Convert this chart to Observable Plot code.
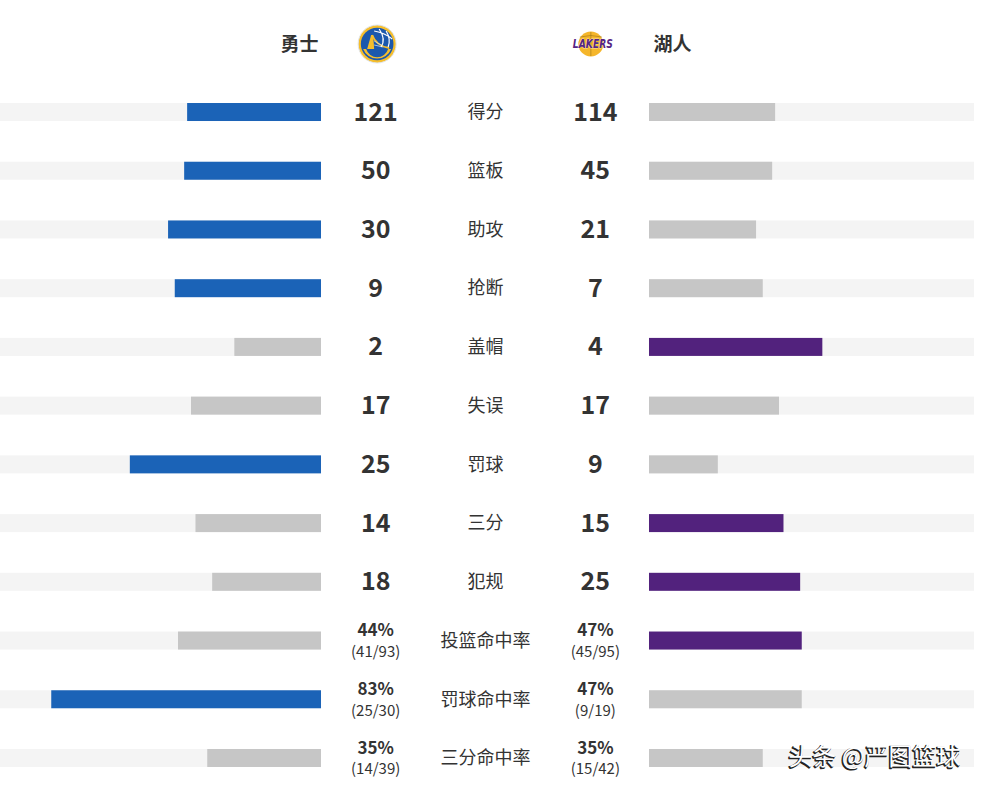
<!DOCTYPE html>
<html>
<head>
<meta charset="utf-8">
<script src="https://cdn.jsdelivr.net/npm/d3@7"></script>
<script src="https://cdn.jsdelivr.net/npm/@observablehq/plot@0.6"></script>
<style>
  html, body { margin: 0; padding: 0; background: #fff; }
  #chart { width: 984px; height: 791px; overflow: hidden; }
</style>
</head>
<body>
<div id="chart"></div>
<script>
const teamLeft = "勇士";
const teamRight = "湖人";
const categories = ["得分","篮板","助攻","抢断","盖帽","失误","罚球","三分","犯规","投篮命中率","罚球命中率","三分命中率"];
const warriors = [121, 50, 30, 9, 2, 17, 25, 14, 18, 44, 83, 35];
const lakers   = [114, 45, 21, 7, 4, 17, 9, 15, 25, 47, 47, 35];
const isPercent = [false,false,false,false,false,false,false,false,false,true,true,true];
const warriorsDetail = ["","","","","","","","","","(41/93)","(25/30)","(14/39)"];
const lakersDetail   = ["","","","","","","","","","(45/95)","(9/19)","(15/42)"];
const watermark = "头条 @严图篮球";

const BLUE = "#1b63b7", PURPLE = "#52227d", GRAY = "#c6c6c6", TRACK = "#f4f4f4", INK = "#333333";

const gap = 0.5046;     // half-gap between the two tracks, in track units
const numCol = 0.338;   // value column position
const rows = categories.map((c, i) => {
  const a = warriors[i], b = lakers[i], pct = isPercent[i];
  const fa = pct ? a / 100 : a / (a + b) * 0.8;
  const fb = pct ? b / 100 : b / (a + b) * 0.8;
  return {
    cat: c, a, b, pct,
    la: pct ? a + "%" : String(a),
    lb: pct ? b + "%" : String(b),
    da: warriorsDetail[i], db: lakersDetail[i],
    a1: -gap - fa, a2: -gap, b1: gap, b2: gap + fb,
    ca: a > b ? BLUE : GRAY,
    cb: b > a ? PURPLE : GRAY
  };
});
const counts = rows.filter(d => !d.pct);
const pcts = rows.filter(d => d.pct);

function logos(index, scales) {
  const g = d3.create("svg:g");
  const wx = scales.x(-numCol) + 2, lx = scales.x(numCol) - 2, cy = 44;
  // Warriors
  const w = g.append("g").attr("transform", `translate(${wx},${cy})`);
  w.append("circle").attr("r", 19).attr("fill", "#f6be2c").attr("stroke", "#dfe6f0").attr("stroke-width", 1);
  w.append("circle").attr("r", 16.3).attr("fill", "#1b58ad");
  w.append("path").attr("d", "M-14,5 A15,15 0 0 0 14,5 L11,5 A11.5,11.5 0 0 1 -11,5 Z").attr("fill", "#f6be2c");
  w.append("path").attr("d", "M-10,5 L-6,-9 L-4,-9 L-3,5 Z").attr("fill", "#f6be2c");
  w.append("path").attr("d", "M-5,-9 Q-1,2 12,4").attr("fill", "none").attr("stroke", "#f6be2c").attr("stroke-width", 1.8);
  w.append("path").attr("d", "M-3,-3 L4,1 M-3,1 L6,3").attr("fill", "none").attr("stroke", "#cfd9e8").attr("stroke-width", 0.8);
  w.append("path").attr("d", "M2,-15 Q9,-5 4,3 M9,-13 Q14,-5 11,3 M-3,-13 Q8,-11 15,-5").attr("fill", "none").attr("stroke", "#ffffff").attr("stroke-width", 1.2);
  // Lakers
  const l = g.append("g").attr("transform", `translate(${lx},${cy})`);
  l.append("circle").attr("cx", -2).attr("cy", 0).attr("r", 12.5).attr("fill", "#f5b62b");
  l.append("path").attr("d", "M-13,-7 Q-2,-10 9,-7 M-2,-12 L-2,12").attr("fill", "none").attr("stroke", "#9a7418").attr("stroke-width", 0.6);
  l.append("text").attr("x", 0).attr("y", 4).attr("text-anchor", "middle")
    .attr("font-family", "DejaVu Sans, sans-serif").attr("font-style", "italic").attr("font-weight", "bold")
    .attr("font-size", 12).attr("fill", "#552583").attr("stroke", "#ffffff").attr("stroke-width", 0.6)
    .attr("paint-order", "stroke").attr("textLength", 40).attr("lengthAdjust", "spacingAndGlyphs").text("LAKERS");
  return g.node();
}

const FONT = "'Noto Sans CJK SC', 'Noto Sans', sans-serif";

const plot = Plot.plot({
  width: 984,
  height: 791,
  margin: 0,
  style: { background: "#fff", fontFamily: FONT, overflow: "visible" },
  x: { domain: [-1 - gap, 1 + gap], range: [-4, 974], axis: null },
  y: { type: "band", domain: categories, range: [82.65, 787.35], paddingInner: 0.6935, paddingOuter: 0.34675, round: false, axis: null },
  marks: [
    // background tracks
    Plot.barX(rows, { y: "cat", x1: -1 - gap, x2: -gap, fill: TRACK }),
    Plot.barX(rows, { y: "cat", x1: gap, x2: 1 + gap, fill: TRACK }),
    // bars
    Plot.barX(rows, { y: "cat", x1: "a1", x2: "a2", fill: "ca" }),
    Plot.barX(rows, { y: "cat", x1: "b1", x2: "b2", fill: "cb" }),
    // category labels
    Plot.text(rows, { y: "cat", x: 0, text: "cat", fontSize: 18, fill: INK }),
    // count values
    Plot.text(counts, { y: "cat", x: -numCol, text: "la", fontSize: 25, fontWeight: "bold", fill: INK }),
    Plot.text(counts, { y: "cat", x: numCol, text: "lb", fontSize: 25, fontWeight: "bold", fill: INK }),
    // percentage values
    Plot.text(pcts, { y: "cat", x: -numCol, text: "la", dy: -10, fontSize: 17, fontWeight: "bold", fill: INK }),
    Plot.text(pcts, { y: "cat", x: numCol, text: "lb", dy: -10, fontSize: 17, fontWeight: "bold", fill: INK }),
    Plot.text(pcts, { y: "cat", x: -numCol, text: "da", dy: 11, fontSize: 15, fill: INK }),
    Plot.text(pcts, { y: "cat", x: numCol, text: "db", dy: 11, fontSize: 15, fill: INK }),
    // header
    Plot.text([teamLeft], { x: -gap, frameAnchor: "top", lineAnchor: "middle", dy: 44, text: d => d, textAnchor: "end", dx: -3, fontSize: 19, fontWeight: "bold", fill: INK }),
    Plot.text([teamRight], { x: gap, frameAnchor: "top", lineAnchor: "middle", dy: 44, text: d => d, textAnchor: "start", dx: 4, fontSize: 19, fontWeight: "bold", fill: INK }),
    logos,
    // watermark (shadow + face)
    Plot.text([watermark], { frameAnchor: "bottom-right", lineAnchor: "middle", dx: -25, dy: -33, text: d => d, fontSize: 24, fill: "#222222", stroke: "#222222", strokeWidth: 1.2, textAnchor: "end" }),
    Plot.text([watermark], { frameAnchor: "bottom-right", lineAnchor: "middle", dx: -24, dy: -34, text: d => d, fontSize: 24, fill: "#ffffff", textAnchor: "end" })
  ]
});
document.getElementById("chart").appendChild(plot);
</script>
</body>
</html>
